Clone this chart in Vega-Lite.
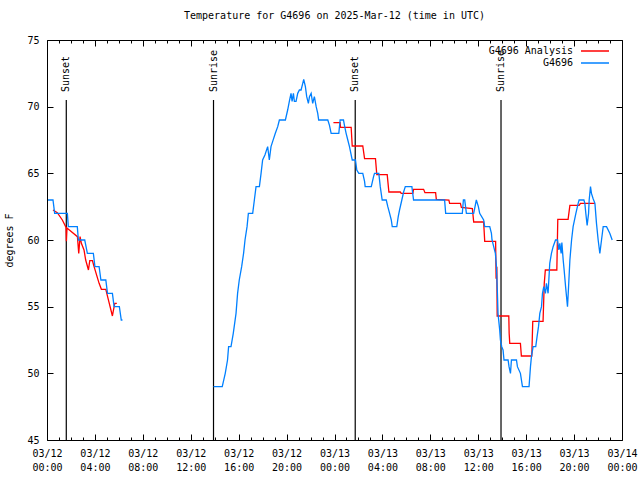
{
  "$schema": "https://vega.github.io/schema/vega-lite/v6.json",
  "width": 575,
  "height": 400,
  "autosize": {"type": "none"},
  "padding": {"left": 47, "top": 40, "right": 18, "bottom": 40},
  "title": {"text": "Temperature for G4696 on 2025-Mar-12 (time in UTC)", "font": "DejaVu Sans Mono", "fontSize": 10, "fontWeight": "normal", "offset": 14, "anchor": "middle", "color": "black"},
  "config": {"view": {"stroke": "black", "strokeWidth": 1}, "font": "DejaVu Sans Mono", "background": "white"},
  "datasets": {
    "obs": [
      {"series": "G4696 Analysis", "seg": "r1", "hour": 0.5, "temp": 62.25},
      {"series": "G4696 Analysis", "seg": "r1", "hour": 0.86, "temp": 62.05},
      {"series": "G4696 Analysis", "seg": "r1", "hour": 1.28, "temp": 61.5},
      {"series": "G4696 Analysis", "seg": "r1", "hour": 1.59, "temp": 60.95},
      {"series": "G4696 Analysis", "seg": "r1", "hour": 1.62, "temp": 59.9},
      {"series": "G4696 Analysis", "seg": "r1", "hour": 1.67, "temp": 60.9},
      {"series": "G4696 Analysis", "seg": "r1", "hour": 2.54, "temp": 60.25},
      {"series": "G4696 Analysis", "seg": "r1", "hour": 2.65, "temp": 59.0},
      {"series": "G4696 Analysis", "seg": "r1", "hour": 2.76, "temp": 60.25},
      {"series": "G4696 Analysis", "seg": "r1", "hour": 2.87, "temp": 59.75},
      {"series": "G4696 Analysis", "seg": "r1", "hour": 3.09, "temp": 59.25},
      {"series": "G4696 Analysis", "seg": "r1", "hour": 3.23, "temp": 58.5},
      {"series": "G4696 Analysis", "seg": "r1", "hour": 3.46, "temp": 57.75},
      {"series": "G4696 Analysis", "seg": "r1", "hour": 3.57, "temp": 58.45},
      {"series": "G4696 Analysis", "seg": "r1", "hour": 3.79, "temp": 58.45},
      {"series": "G4696 Analysis", "seg": "r1", "hour": 3.93, "temp": 58.0},
      {"series": "G4696 Analysis", "seg": "r1", "hour": 4.35, "temp": 56.75},
      {"series": "G4696 Analysis", "seg": "r1", "hour": 4.54, "temp": 56.3},
      {"series": "G4696 Analysis", "seg": "r1", "hour": 4.91, "temp": 56.3},
      {"series": "G4696 Analysis", "seg": "r1", "hour": 5.1, "temp": 55.6},
      {"series": "G4696 Analysis", "seg": "r1", "hour": 5.46, "temp": 54.3},
      {"series": "G4696 Analysis", "seg": "r1", "hour": 5.54, "temp": 54.7},
      {"series": "G4696 Analysis", "seg": "r1", "hour": 5.66, "temp": 55.25},
      {"series": "G4696 Analysis", "seg": "r1", "hour": 5.83, "temp": 55.25},
      {"series": "G4696 Analysis", "seg": "r2", "hour": 23.91, "temp": 68.8},
      {"series": "G4696 Analysis", "seg": "r2", "hour": 24.47, "temp": 68.8},
      {"series": "G4696 Analysis", "seg": "r2", "hour": 24.5, "temp": 68.45},
      {"series": "G4696 Analysis", "seg": "r2", "hour": 25.39, "temp": 68.45},
      {"series": "G4696 Analysis", "seg": "r2", "hour": 25.48, "temp": 67.05},
      {"series": "G4696 Analysis", "seg": "r2", "hour": 26.36, "temp": 67.05},
      {"series": "G4696 Analysis", "seg": "r2", "hour": 26.51, "temp": 66.1},
      {"series": "G4696 Analysis", "seg": "r2", "hour": 27.42, "temp": 66.1},
      {"series": "G4696 Analysis", "seg": "r2", "hour": 27.53, "temp": 64.9},
      {"series": "G4696 Analysis", "seg": "r2", "hour": 28.4, "temp": 64.9},
      {"series": "G4696 Analysis", "seg": "r2", "hour": 28.54, "temp": 63.6},
      {"series": "G4696 Analysis", "seg": "r2", "hour": 29.49, "temp": 63.6},
      {"series": "G4696 Analysis", "seg": "r2", "hour": 29.57, "temp": 63.5},
      {"series": "G4696 Analysis", "seg": "r2", "hour": 30.54, "temp": 63.5},
      {"series": "G4696 Analysis", "seg": "r2", "hour": 30.6, "temp": 63.8},
      {"series": "G4696 Analysis", "seg": "r2", "hour": 31.44, "temp": 63.8},
      {"series": "G4696 Analysis", "seg": "r2", "hour": 31.55, "temp": 63.55},
      {"series": "G4696 Analysis", "seg": "r2", "hour": 32.44, "temp": 63.55},
      {"series": "G4696 Analysis", "seg": "r2", "hour": 32.5, "temp": 63.05},
      {"series": "G4696 Analysis", "seg": "r2", "hour": 33.55, "temp": 63.0},
      {"series": "G4696 Analysis", "seg": "r2", "hour": 33.61, "temp": 62.75},
      {"series": "G4696 Analysis", "seg": "r2", "hour": 34.51, "temp": 62.75},
      {"series": "G4696 Analysis", "seg": "r2", "hour": 34.59, "temp": 62.45},
      {"series": "G4696 Analysis", "seg": "r2", "hour": 35.51, "temp": 62.35},
      {"series": "G4696 Analysis", "seg": "r2", "hour": 35.62, "temp": 61.35},
      {"series": "G4696 Analysis", "seg": "r2", "hour": 36.45, "temp": 61.35},
      {"series": "G4696 Analysis", "seg": "r2", "hour": 36.54, "temp": 59.9},
      {"series": "G4696 Analysis", "seg": "r2", "hour": 37.45, "temp": 59.9},
      {"series": "G4696 Analysis", "seg": "r2", "hour": 37.49, "temp": 57.1},
      {"series": "G4696 Analysis", "seg": "r2", "hour": 37.55, "temp": 58.0},
      {"series": "G4696 Analysis", "seg": "r2", "hour": 37.58, "temp": 54.3},
      {"series": "G4696 Analysis", "seg": "r2", "hour": 38.55, "temp": 54.3},
      {"series": "G4696 Analysis", "seg": "r2", "hour": 38.58, "temp": 53.0},
      {"series": "G4696 Analysis", "seg": "r2", "hour": 38.63, "temp": 52.25},
      {"series": "G4696 Analysis", "seg": "r2", "hour": 39.52, "temp": 52.25},
      {"series": "G4696 Analysis", "seg": "r2", "hour": 39.6, "temp": 51.3},
      {"series": "G4696 Analysis", "seg": "r2", "hour": 40.47, "temp": 51.3},
      {"series": "G4696 Analysis", "seg": "r2", "hour": 40.55, "temp": 53.9},
      {"series": "G4696 Analysis", "seg": "r2", "hour": 41.41, "temp": 53.9},
      {"series": "G4696 Analysis", "seg": "r2", "hour": 41.51, "temp": 56.75},
      {"series": "G4696 Analysis", "seg": "r2", "hour": 41.6, "temp": 57.75},
      {"series": "G4696 Analysis", "seg": "r2", "hour": 42.56, "temp": 57.75},
      {"series": "G4696 Analysis", "seg": "r2", "hour": 42.64, "temp": 61.55},
      {"series": "G4696 Analysis", "seg": "r2", "hour": 43.5, "temp": 61.55},
      {"series": "G4696 Analysis", "seg": "r2", "hour": 43.65, "temp": 62.6},
      {"series": "G4696 Analysis", "seg": "r2", "hour": 44.42, "temp": 62.6},
      {"series": "G4696 Analysis", "seg": "r2", "hour": 44.53, "temp": 62.75},
      {"series": "G4696 Analysis", "seg": "r2", "hour": 45.74, "temp": 62.75},
      {"series": "G4696", "seg": "b1", "hour": 0.08, "temp": 63},
      {"series": "G4696", "seg": "b1", "hour": 0.5, "temp": 63},
      {"series": "G4696", "seg": "b1", "hour": 0.64, "temp": 62},
      {"series": "G4696", "seg": "b1", "hour": 1.7, "temp": 62},
      {"series": "G4696", "seg": "b1", "hour": 1.78, "temp": 61},
      {"series": "G4696", "seg": "b1", "hour": 2.53, "temp": 61},
      {"series": "G4696", "seg": "b1", "hour": 2.62, "temp": 60},
      {"series": "G4696", "seg": "b1", "hour": 3.15, "temp": 60},
      {"series": "G4696", "seg": "b1", "hour": 3.37, "temp": 59},
      {"series": "G4696", "seg": "b1", "hour": 3.87, "temp": 59},
      {"series": "G4696", "seg": "b1", "hour": 4.0, "temp": 58},
      {"series": "G4696", "seg": "b1", "hour": 4.35, "temp": 58},
      {"series": "G4696", "seg": "b1", "hour": 4.5, "temp": 57},
      {"series": "G4696", "seg": "b1", "hour": 4.91, "temp": 57},
      {"series": "G4696", "seg": "b1", "hour": 5.05, "temp": 56},
      {"series": "G4696", "seg": "b1", "hour": 5.46, "temp": 56},
      {"series": "G4696", "seg": "b1", "hour": 5.6, "temp": 55},
      {"series": "G4696", "seg": "b1", "hour": 6.04, "temp": 55},
      {"series": "G4696", "seg": "b1", "hour": 6.2, "temp": 54},
      {"series": "G4696", "seg": "b1", "hour": 6.3, "temp": 54},
      {"series": "G4696", "seg": "b2", "hour": 13.9, "temp": 49},
      {"series": "G4696", "seg": "b2", "hour": 14.63, "temp": 49},
      {"series": "G4696", "seg": "b2", "hour": 14.88, "temp": 50},
      {"series": "G4696", "seg": "b2", "hour": 15.07, "temp": 51},
      {"series": "G4696", "seg": "b2", "hour": 15.16, "temp": 52},
      {"series": "G4696", "seg": "b2", "hour": 15.36, "temp": 52},
      {"series": "G4696", "seg": "b2", "hour": 15.55, "temp": 53},
      {"series": "G4696", "seg": "b2", "hour": 15.78, "temp": 54.5},
      {"series": "G4696", "seg": "b2", "hour": 15.91, "temp": 56},
      {"series": "G4696", "seg": "b2", "hour": 16.05, "temp": 57},
      {"series": "G4696", "seg": "b2", "hour": 16.25, "temp": 58},
      {"series": "G4696", "seg": "b2", "hour": 16.41, "temp": 59},
      {"series": "G4696", "seg": "b2", "hour": 16.53, "temp": 60},
      {"series": "G4696", "seg": "b2", "hour": 16.7, "temp": 61},
      {"series": "G4696", "seg": "b2", "hour": 16.81, "temp": 62},
      {"series": "G4696", "seg": "b2", "hour": 17.17, "temp": 62},
      {"series": "G4696", "seg": "b2", "hour": 17.31, "temp": 63},
      {"series": "G4696", "seg": "b2", "hour": 17.45, "temp": 64},
      {"series": "G4696", "seg": "b2", "hour": 17.73, "temp": 64},
      {"series": "G4696", "seg": "b2", "hour": 17.87, "temp": 65},
      {"series": "G4696", "seg": "b2", "hour": 18.0, "temp": 66},
      {"series": "G4696", "seg": "b2", "hour": 18.2, "temp": 66.4},
      {"series": "G4696", "seg": "b2", "hour": 18.42, "temp": 67},
      {"series": "G4696", "seg": "b2", "hour": 18.56, "temp": 66},
      {"series": "G4696", "seg": "b2", "hour": 18.7, "temp": 67},
      {"series": "G4696", "seg": "b2", "hour": 18.84, "temp": 67.4},
      {"series": "G4696", "seg": "b2", "hour": 19.06, "temp": 68},
      {"series": "G4696", "seg": "b2", "hour": 19.26, "temp": 68.5},
      {"series": "G4696", "seg": "b2", "hour": 19.4, "temp": 69},
      {"series": "G4696", "seg": "b2", "hour": 19.9, "temp": 69},
      {"series": "G4696", "seg": "b2", "hour": 20.09, "temp": 69.75},
      {"series": "G4696", "seg": "b2", "hour": 20.23, "temp": 70.4},
      {"series": "G4696", "seg": "b2", "hour": 20.37, "temp": 71},
      {"series": "G4696", "seg": "b2", "hour": 20.46, "temp": 70.4},
      {"series": "G4696", "seg": "b2", "hour": 20.57, "temp": 71},
      {"series": "G4696", "seg": "b2", "hour": 20.65, "temp": 70.4},
      {"series": "G4696", "seg": "b2", "hour": 20.79, "temp": 70.4},
      {"series": "G4696", "seg": "b2", "hour": 20.93, "temp": 71},
      {"series": "G4696", "seg": "b2", "hour": 21.07, "temp": 71.25},
      {"series": "G4696", "seg": "b2", "hour": 21.21, "temp": 71.25},
      {"series": "G4696", "seg": "b2", "hour": 21.35, "temp": 71.75},
      {"series": "G4696", "seg": "b2", "hour": 21.43, "temp": 72.05},
      {"series": "G4696", "seg": "b2", "hour": 21.57, "temp": 71.5},
      {"series": "G4696", "seg": "b2", "hour": 21.68, "temp": 70.75},
      {"series": "G4696", "seg": "b2", "hour": 21.82, "temp": 70.25},
      {"series": "G4696", "seg": "b2", "hour": 21.91, "temp": 70.75},
      {"series": "G4696", "seg": "b2", "hour": 22.05, "temp": 71},
      {"series": "G4696", "seg": "b2", "hour": 22.18, "temp": 70.25},
      {"series": "G4696", "seg": "b2", "hour": 22.32, "temp": 70.75},
      {"series": "G4696", "seg": "b2", "hour": 22.47, "temp": 70},
      {"series": "G4696", "seg": "b2", "hour": 22.6, "temp": 69.5},
      {"series": "G4696", "seg": "b2", "hour": 22.68, "temp": 69},
      {"series": "G4696", "seg": "b2", "hour": 23.44, "temp": 69},
      {"series": "G4696", "seg": "b2", "hour": 23.58, "temp": 68.6},
      {"series": "G4696", "seg": "b2", "hour": 23.72, "temp": 68},
      {"series": "G4696", "seg": "b2", "hour": 24.36, "temp": 68},
      {"series": "G4696", "seg": "b2", "hour": 24.47, "temp": 69},
      {"series": "G4696", "seg": "b2", "hour": 24.75, "temp": 69},
      {"series": "G4696", "seg": "b2", "hour": 24.83, "temp": 68.6},
      {"series": "G4696", "seg": "b2", "hour": 24.97, "temp": 68},
      {"series": "G4696", "seg": "b2", "hour": 25.11, "temp": 67.5},
      {"series": "G4696", "seg": "b2", "hour": 25.25, "temp": 67},
      {"series": "G4696", "seg": "b2", "hour": 25.48, "temp": 66},
      {"series": "G4696", "seg": "b2", "hour": 25.75, "temp": 66},
      {"series": "G4696", "seg": "b2", "hour": 25.86, "temp": 65.25},
      {"series": "G4696", "seg": "b2", "hour": 26.03, "temp": 65},
      {"series": "G4696", "seg": "b2", "hour": 26.36, "temp": 65},
      {"series": "G4696", "seg": "b2", "hour": 26.51, "temp": 64.4},
      {"series": "G4696", "seg": "b2", "hour": 26.56, "temp": 64},
      {"series": "G4696", "seg": "b2", "hour": 27.07, "temp": 64},
      {"series": "G4696", "seg": "b2", "hour": 27.26, "temp": 64.75},
      {"series": "G4696", "seg": "b2", "hour": 27.34, "temp": 65},
      {"series": "G4696", "seg": "b2", "hour": 27.7, "temp": 65},
      {"series": "G4696", "seg": "b2", "hour": 27.82, "temp": 64},
      {"series": "G4696", "seg": "b2", "hour": 27.98, "temp": 63},
      {"series": "G4696", "seg": "b2", "hour": 28.32, "temp": 63},
      {"series": "G4696", "seg": "b2", "hour": 28.45, "temp": 62.5},
      {"series": "G4696", "seg": "b2", "hour": 28.6, "temp": 62},
      {"series": "G4696", "seg": "b2", "hour": 28.74, "temp": 61.5},
      {"series": "G4696", "seg": "b2", "hour": 28.82, "temp": 61},
      {"series": "G4696", "seg": "b2", "hour": 29.2, "temp": 61},
      {"series": "G4696", "seg": "b2", "hour": 29.32, "temp": 61.75},
      {"series": "G4696", "seg": "b2", "hour": 29.43, "temp": 62.25},
      {"series": "G4696", "seg": "b2", "hour": 29.62, "temp": 63},
      {"series": "G4696", "seg": "b2", "hour": 29.77, "temp": 63.6},
      {"series": "G4696", "seg": "b2", "hour": 29.91, "temp": 64},
      {"series": "G4696", "seg": "b2", "hour": 30.46, "temp": 64},
      {"series": "G4696", "seg": "b2", "hour": 30.6, "temp": 63},
      {"series": "G4696", "seg": "b2", "hour": 33.19, "temp": 63},
      {"series": "G4696", "seg": "b2", "hour": 33.28, "temp": 62},
      {"series": "G4696", "seg": "b2", "hour": 34.67, "temp": 62},
      {"series": "G4696", "seg": "b2", "hour": 34.76, "temp": 63},
      {"series": "G4696", "seg": "b2", "hour": 34.87, "temp": 63},
      {"series": "G4696", "seg": "b2", "hour": 35.01, "temp": 62},
      {"series": "G4696", "seg": "b2", "hour": 35.48, "temp": 62},
      {"series": "G4696", "seg": "b2", "hour": 35.62, "temp": 62},
      {"series": "G4696", "seg": "b2", "hour": 35.84, "temp": 63},
      {"series": "G4696", "seg": "b2", "hour": 36.01, "temp": 62.5},
      {"series": "G4696", "seg": "b2", "hour": 36.12, "temp": 62},
      {"series": "G4696", "seg": "b2", "hour": 36.45, "temp": 61.5},
      {"series": "G4696", "seg": "b2", "hour": 36.54, "temp": 61},
      {"series": "G4696", "seg": "b2", "hour": 36.96, "temp": 61},
      {"series": "G4696", "seg": "b2", "hour": 37.1, "temp": 60.5},
      {"series": "G4696", "seg": "b2", "hour": 37.15, "temp": 60},
      {"series": "G4696", "seg": "b2", "hour": 37.43, "temp": 59},
      {"series": "G4696", "seg": "b2", "hour": 37.52, "temp": 58},
      {"series": "G4696", "seg": "b2", "hour": 37.6, "temp": 56},
      {"series": "G4696", "seg": "b2", "hour": 37.65, "temp": 54.5},
      {"series": "G4696", "seg": "b2", "hour": 37.79, "temp": 53.25},
      {"series": "G4696", "seg": "b2", "hour": 37.85, "temp": 52.5},
      {"series": "G4696", "seg": "b2", "hour": 37.96, "temp": 52},
      {"series": "G4696", "seg": "b2", "hour": 38.07, "temp": 51.75},
      {"series": "G4696", "seg": "b2", "hour": 38.15, "temp": 51},
      {"series": "G4696", "seg": "b2", "hour": 38.49, "temp": 51},
      {"series": "G4696", "seg": "b2", "hour": 38.57, "temp": 50.5},
      {"series": "G4696", "seg": "b2", "hour": 38.69, "temp": 50},
      {"series": "G4696", "seg": "b2", "hour": 38.77, "temp": 51},
      {"series": "G4696", "seg": "b2", "hour": 39.19, "temp": 51},
      {"series": "G4696", "seg": "b2", "hour": 39.27, "temp": 50.5},
      {"series": "G4696", "seg": "b2", "hour": 39.52, "temp": 50},
      {"series": "G4696", "seg": "b2", "hour": 39.69, "temp": 49},
      {"series": "G4696", "seg": "b2", "hour": 40.24, "temp": 49},
      {"series": "G4696", "seg": "b2", "hour": 40.36, "temp": 50.5},
      {"series": "G4696", "seg": "b2", "hour": 40.44, "temp": 51.25},
      {"series": "G4696", "seg": "b2", "hour": 40.58, "temp": 52},
      {"series": "G4696", "seg": "b2", "hour": 40.8, "temp": 52},
      {"series": "G4696", "seg": "b2", "hour": 40.91, "temp": 52.75},
      {"series": "G4696", "seg": "b2", "hour": 41.03, "temp": 53.5},
      {"series": "G4696", "seg": "b2", "hour": 41.14, "temp": 54.5},
      {"series": "G4696", "seg": "b2", "hour": 41.28, "temp": 55},
      {"series": "G4696", "seg": "b2", "hour": 41.36, "temp": 56},
      {"series": "G4696", "seg": "b2", "hour": 41.47, "temp": 56.5},
      {"series": "G4696", "seg": "b2", "hour": 41.61, "temp": 56},
      {"series": "G4696", "seg": "b2", "hour": 41.69, "temp": 56.75},
      {"series": "G4696", "seg": "b2", "hour": 41.83, "temp": 56},
      {"series": "G4696", "seg": "b2", "hour": 41.97, "temp": 58.25},
      {"series": "G4696", "seg": "b2", "hour": 42.11, "temp": 59},
      {"series": "G4696", "seg": "b2", "hour": 42.25, "temp": 59.5},
      {"series": "G4696", "seg": "b2", "hour": 42.45, "temp": 60},
      {"series": "G4696", "seg": "b2", "hour": 42.62, "temp": 60},
      {"series": "G4696", "seg": "b2", "hour": 42.73, "temp": 59.25},
      {"series": "G4696", "seg": "b2", "hour": 42.81, "temp": 59.75},
      {"series": "G4696", "seg": "b2", "hour": 42.92, "temp": 59},
      {"series": "G4696", "seg": "b2", "hour": 42.98, "temp": 59.8},
      {"series": "G4696", "seg": "b2", "hour": 43.09, "temp": 58.5},
      {"series": "G4696", "seg": "b2", "hour": 43.17, "temp": 57.75},
      {"series": "G4696", "seg": "b2", "hour": 43.29, "temp": 56.5},
      {"series": "G4696", "seg": "b2", "hour": 43.37, "temp": 55.75},
      {"series": "G4696", "seg": "b2", "hour": 43.45, "temp": 55},
      {"series": "G4696", "seg": "b2", "hour": 43.54, "temp": 56.5},
      {"series": "G4696", "seg": "b2", "hour": 43.65, "temp": 58.5},
      {"series": "G4696", "seg": "b2", "hour": 43.79, "temp": 60},
      {"series": "G4696", "seg": "b2", "hour": 43.92, "temp": 61},
      {"series": "G4696", "seg": "b2", "hour": 44.15, "temp": 62},
      {"series": "G4696", "seg": "b2", "hour": 44.34, "temp": 62.75},
      {"series": "G4696", "seg": "b2", "hour": 44.42, "temp": 63},
      {"series": "G4696", "seg": "b2", "hour": 44.82, "temp": 63},
      {"series": "G4696", "seg": "b2", "hour": 44.9, "temp": 62.75},
      {"series": "G4696", "seg": "b2", "hour": 44.98, "temp": 62},
      {"series": "G4696", "seg": "b2", "hour": 45.09, "temp": 61.1},
      {"series": "G4696", "seg": "b2", "hour": 45.21, "temp": 62},
      {"series": "G4696", "seg": "b2", "hour": 45.26, "temp": 63},
      {"series": "G4696", "seg": "b2", "hour": 45.37, "temp": 64},
      {"series": "G4696", "seg": "b2", "hour": 45.45, "temp": 63.5},
      {"series": "G4696", "seg": "b2", "hour": 45.59, "temp": 63.1},
      {"series": "G4696", "seg": "b2", "hour": 45.74, "temp": 62.75},
      {"series": "G4696", "seg": "b2", "hour": 45.87, "temp": 61.25},
      {"series": "G4696", "seg": "b2", "hour": 46.01, "temp": 60},
      {"series": "G4696", "seg": "b2", "hour": 46.15, "temp": 59},
      {"series": "G4696", "seg": "b2", "hour": 46.29, "temp": 60},
      {"series": "G4696", "seg": "b2", "hour": 46.43, "temp": 61},
      {"series": "G4696", "seg": "b2", "hour": 46.71, "temp": 61},
      {"series": "G4696", "seg": "b2", "hour": 46.98, "temp": 60.5},
      {"series": "G4696", "seg": "b2", "hour": 47.18, "temp": 60}
    ],
    "sun": [
      {"event": "Sunset", "hour": 1.61},
      {"event": "Sunrise", "hour": 13.9},
      {"event": "Sunset", "hour": 25.73},
      {"event": "Sunrise", "hour": 37.9}
    ]
  },
  "layer": [
    {
      "data": {"name": "sun"},
      "mark": {"type": "rule", "color": "black", "strokeWidth": 1.2},
      "encoding": {
        "x": {"field": "hour", "type": "quantitative", "scale": {"domain": [0, 48], "nice": false, "zero": false},
          "axis": {"orient": "top", "values": [0,1,2,3,4,5,6,7,8,9,10,11,12,13,14,15,16,17,18,19,20,21,22,23,24,25,26,27,28,29,30,31,32,33,34,35,36,37,38,39,40,41,42,43,44,45,46,47,48],
            "tickSize": {"condition": {"test": "datum.value % 4 === 0", "value": -6}, "value": -3},
            "tickColor": "black", "labels": false, "domain": false, "grid": false, "title": null}},
        "y": {"datum": 70.5, "type": "quantitative", "scale": {"domain": [45, 75], "nice": false, "zero": false},
          "axis": {"orient": "right", "values": [45, 50, 55, 60, 65, 70, 75], "tickSize": -6, "tickColor": "black", "labels": false, "domain": false, "grid": false, "title": null}},
        "y2": {"datum": 45}
      }
    },
    {
      "data": {"name": "sun"},
      "mark": {"type": "text", "angle": 270, "align": "left", "baseline": "middle", "font": "DejaVu Sans Mono", "fontSize": 10, "color": "black"},
      "encoding": {
        "x": {"field": "hour", "type": "quantitative", "axis": null},
        "y": {"datum": 71.1, "type": "quantitative", "axis": null},
        "text": {"field": "event"}
      }
    },
    {
      "data": {"name": "obs"},
      "mark": {"type": "line", "strokeWidth": 1.3},
      "encoding": {
        "x": {"field": "hour", "type": "quantitative",
          "axis": {"orient": "bottom", "values": [0,1,2,3,4,5,6,7,8,9,10,11,12,13,14,15,16,17,18,19,20,21,22,23,24,25,26,27,28,29,30,31,32,33,34,35,36,37,38,39,40,41,42,43,44,45,46,47,48],
            "tickSize": {"condition": {"test": "datum.value % 4 === 0", "value": -6}, "value": -3},
            "tickColor": "black",
            "labelExpr": "datum.value % 4 === 0 ? [(datum.value < 24 ? '03/12' : (datum.value < 48 ? '03/13' : '03/14')), ((datum.value % 24) < 10 ? '0' : '') + (datum.value % 24) + ':00'] : ''",
            "labelFont": "DejaVu Sans Mono", "labelFontSize": 10, "labelColor": "black", "labelPadding": 14, "labelLineHeight": 14,
            "labelOverlap": false, "labelFlush": false, "labelBound": false, "domain": false, "grid": false, "title": null}},
        "y": {"field": "temp", "type": "quantitative",
          "axis": {"orient": "left", "values": [45, 50, 55, 60, 65, 70, 75], "tickSize": -6, "tickColor": "black",
            "labelFont": "DejaVu Sans Mono", "labelFontSize": 10, "labelColor": "black", "labelPadding": 14,
            "domain": false, "grid": false, "title": "degrees F", "titleFont": "DejaVu Sans Mono", "titleFontSize": 10, "titleFontWeight": "normal", "titleColor": "black", "titlePadding": 12}},
        "color": {"field": "series", "type": "nominal",
          "scale": {"domain": ["G4696 Analysis", "G4696"], "range": ["#ff0000", "#0080ff"]},
          "legend": {"orient": "none", "legendX": 543, "legendY": 6, "symbolType": "M-7,0H7", "symbolSize": 16, "symbolStrokeWidth": 1.5,
            "labelAlign": "right", "labelOffset": -27, "labelFont": "DejaVu Sans Mono", "labelFontSize": 10, "labelColor": "black",
            "title": null, "padding": 0, "rowPadding": 2}},
        "detail": {"field": "seg", "type": "nominal"}
      }
    }
  ],
  "resolve": {"axis": {"x": "independent", "y": "independent"}}
}
